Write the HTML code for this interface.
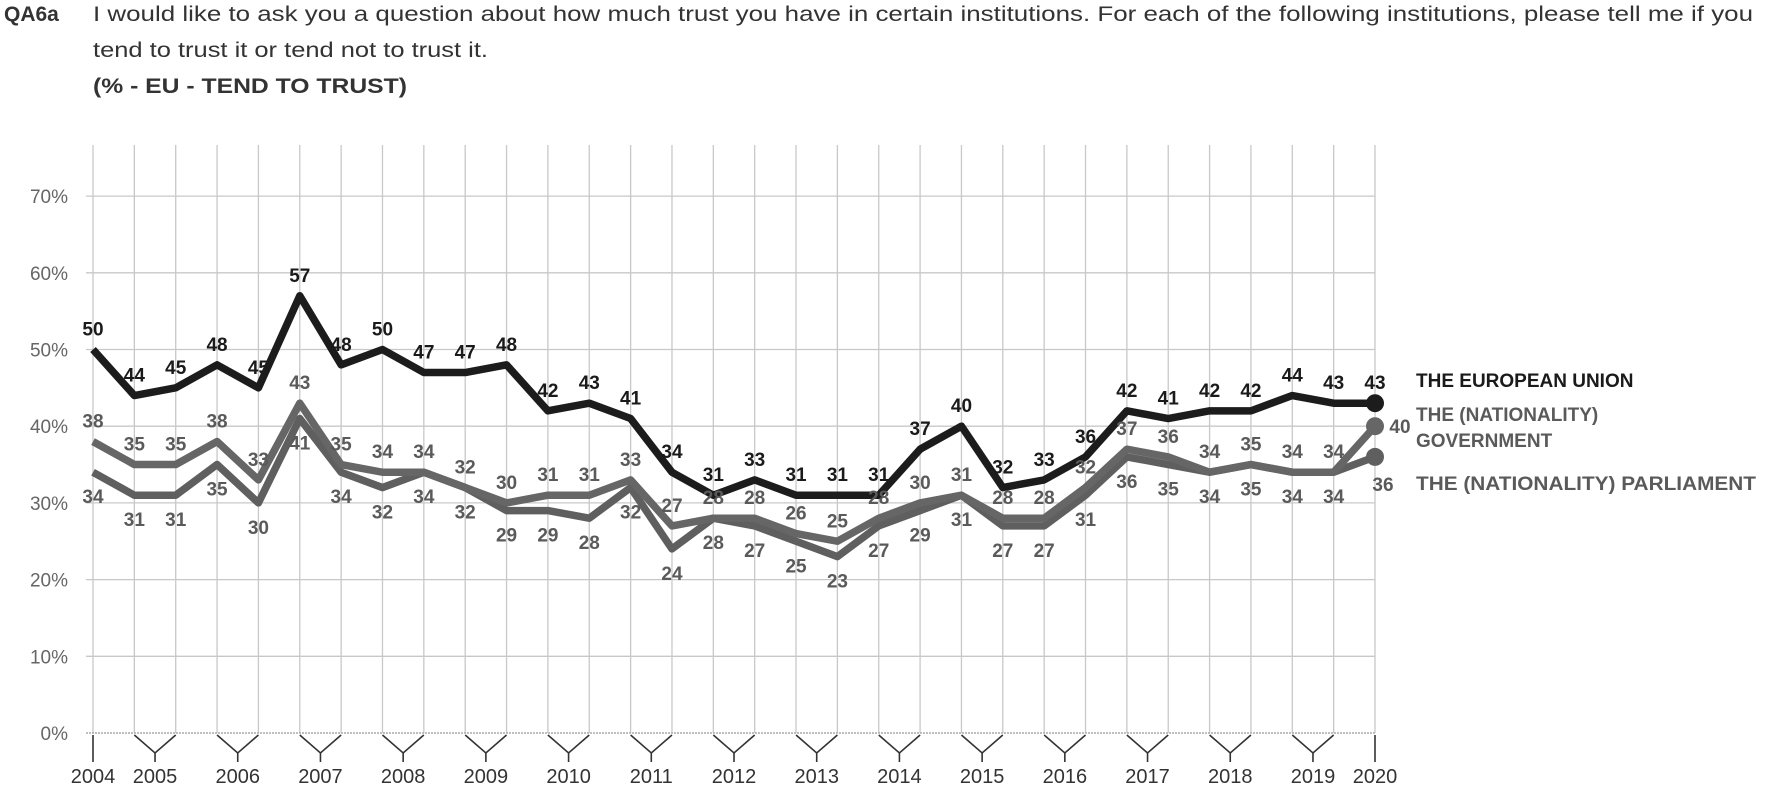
<!DOCTYPE html>
<html><head><meta charset="utf-8"><style>
html,body{margin:0;padding:0;background:#fff;}
svg{display:block;font-family:"Liberation Sans",Arial,sans-serif;}
</style></head><body>
<svg id="chart" width="1773" height="785" viewBox="0 0 1773 785" xmlns="http://www.w3.org/2000/svg">
<g>
<text x="4" y="21" font-size="21" font-weight="bold" fill="#333">QA6a</text>
<text x="93" y="21" font-size="21" fill="#333" textLength="1660" lengthAdjust="spacingAndGlyphs">I would like to ask you a question about how much trust you have in certain institutions. For each of the following institutions, please tell me if you</text>
<text x="93" y="57" font-size="21" fill="#333" textLength="395" lengthAdjust="spacingAndGlyphs">tend to trust it or tend not to trust it.</text>
<text x="93" y="93" font-size="21" font-weight="bold" fill="#333" textLength="314" lengthAdjust="spacingAndGlyphs">(% - EU - TEND TO TRUST)</text>
</g>
<g id="grid"></g><g id="axis"></g><g id="lines"></g><g id="labels"></g>
<g font-size="19" font-weight="bold">
<text x="1416" y="387" fill="#1a1a1a">THE EUROPEAN UNION</text>
<text x="1416" y="421" fill="#5a5a5a">THE (NATIONALITY)</text>
<text x="1416" y="447" fill="#5a5a5a">GOVERNMENT</text>
<text x="1416" y="490" fill="#5a5a5a" textLength="340" lengthAdjust="spacingAndGlyphs">THE (NATIONALITY) PARLIAMENT</text>
</g>
</svg>
<script>
const years=["2004","2005","2006","2007","2008","2009","2010","2011","2012","2013","2014","2015","2016","2017","2018","2019","2020"];
const yearPos=[0,1.5,3.5,5.5,7.5,9.5,11.5,13.5,15.5,17.5,19.5,21.5,23.5,25.5,27.5,29.5,31];
const yTicks=[0,10,20,30,40,50,60,70];
const eu=[50,44,45,48,45,57,48,50,47,47,48,42,43,41,34,31,33,31,31,31,37,40,32,33,36,42,41,42,42,44,43,43];
const gov=[38,35,35,38,33,43,35,34,34,32,30,31,31,33,27,28,28,26,25,28,30,31,28,28,32,37,36,34,35,34,34,40];
const parl=[34,31,31,35,30,41,34,32,34,32,29,29,28,32,24,28,27,25,23,27,29,31,27,27,31,36,35,34,35,34,34,36];
const NS="http://www.w3.org/2000/svg";
const x0=93,x1=1375,y0=733,yPer=7.67;
const n=eu.length;
function X(i){return x0+i*(x1-x0)/(n-1);}
function Y(v){return y0-v*yPer;}
function mk(parent,tag,attrs,txt){const e=document.createElementNS(NS,tag);for(const k in attrs)e.setAttribute(k,attrs[k]);if(txt!==undefined)e.textContent=txt;document.getElementById(parent).appendChild(e);return e;}
for(let i=0;i<n;i++){const l=mk('grid','line',{x1:X(i),x2:X(i),y1:145,y2:y0,stroke:'#c8c8c8','stroke-width':1.3});

}
yTicks.forEach(v=>{const l=mk('grid','line',{x1:86,x2:x1,y1:Y(v),y2:Y(v),stroke:v===0?'#aaa':'#c8c8c8','stroke-width':v===0?1.6:1.3,'stroke-dasharray':v===0?'2,1':''});


const t=mk('axis','text',{x:68,y:Y(v)+7,'text-anchor':'end','font-size':19,fill:'#666'},v+'%');

});
years.forEach((yr,k)=>{const p=yearPos[k];const cx=X(p);
if(Number.isInteger(p)){const l=mk('axis','line',{x1:cx,x2:cx,y1:735,y2:762,stroke:'#333','stroke-width':1.6});

}
else{const a=X(p-0.5),b=X(p+0.5);const pl=mk('axis','polyline',{points:`${a},735 ${cx},753 ${b},735`,fill:'none',stroke:'#333','stroke-width':1.6});


const l=mk('axis','line',{x1:cx,x2:cx,y1:753,y2:762,stroke:'#333','stroke-width':1.6});

}
const t=mk('axis','text',{x:cx,y:783,'text-anchor':'middle','font-size':20,fill:'#333'},yr);

});
function series(data,color,name,labelDy,labelColor){
const pts=data.map((v,i)=>X(i)+','+Y(v)).join(' ');
const pl=mk('lines','polyline',{points:pts,fill:'none',stroke:color,'stroke-width':7.5,'stroke-linejoin':'round'});


const c=mk('lines','circle',{cx:X(n-1),cy:Y(data[n-1]),r:9,fill:color});


data.forEach((v,i)=>{let x=X(i),y=Y(v)+labelDy;
if(i===n-1&&name==='government'){x+=25;y=Y(v)+7;}
if(i===n-1&&name==='parliament'){x+=8;y=Y(v)+34;}
const t=mk('labels','text',{x:x,y:y,'text-anchor':'middle','font-size':19,'font-weight':'bold',fill:labelColor},String(v));

});}
series(parl,'#5f5f5f','parliament',31,'#5a5a5a');
series(gov,'#666666','government',-14,'#5a5a5a');
series(eu,'#1c1c1c','eu',-14,'#1a1a1a');
</script>
</body></html>
